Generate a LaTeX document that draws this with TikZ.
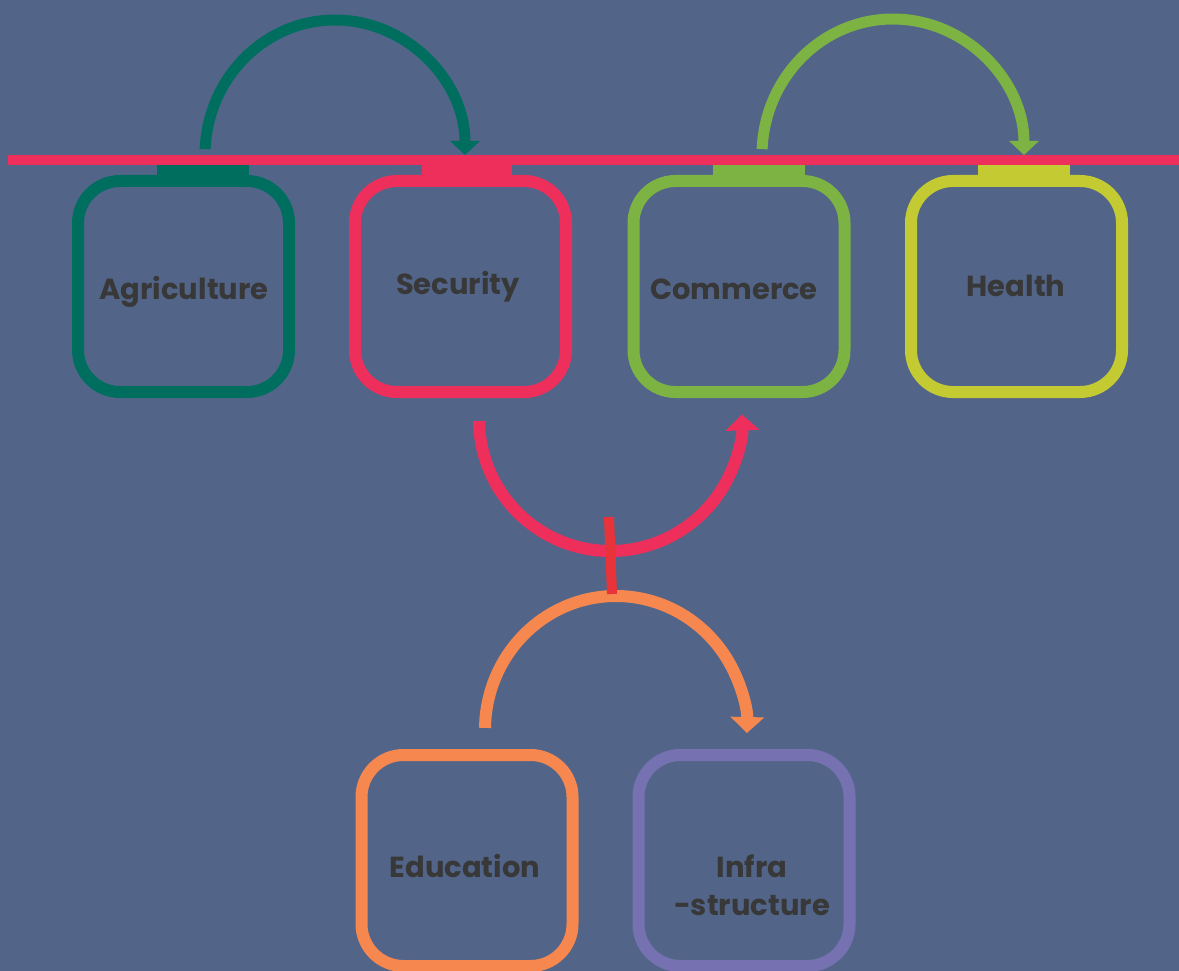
\documentclass[tikz,border=0pt]{standalone}
\usepackage{fontspec}
\setmainfont{Poppins}
\usetikzlibrary{arrows.meta,calc}
\definecolor{bg}{HTML}{526589}
\definecolor{dgreen}{HTML}{006E5F}
\definecolor{pinkred}{HTML}{EE2E5B}
\definecolor{lgreen}{HTML}{7CB342}
\definecolor{ygreen}{HTML}{C3CA32}
\definecolor{orng}{HTML}{F5874F}
\definecolor{purp}{HTML}{7672B2}
\definecolor{txt}{HTML}{383838}
\definecolor{barred}{HTML}{E8333A}
\begin{document}
\begin{tikzpicture}[x=1pt,y=-1pt,
  box/.style={draw, line width=12pt, rounded corners=42pt, minimum width=211pt, minimum height=211pt, inner sep=0pt},
  lbl/.style={anchor=base, text=txt, font=\bfseries\fontsize{29}{38}\selectfont, inner sep=0pt},
  conn/.style={line width=11pt},
  tipS/.style={-{Triangle[width=29pt,length=14pt]}},
  tipL/.style={-{Triangle[width=33pt,length=16pt]}}]
\fill[bg] (0,0) rectangle (1179,971);
\useasboundingbox (0,0) rectangle (1179,971);
% boxes
\node[box, draw=dgreen] (agri) at (183.5,286.5) {};
\node[box, draw=pinkred] (sec) at (460.5,286.5) {};
\node[box, draw=lgreen] (com) at (739,286.5) {};
\node[box, draw=ygreen] (hea) at (1016.5,286.5) {};
\node[box, draw=orng] (edu) at (467,860.5) {};
\node[box, draw=purp] (inf) at (744,860.5) {};
% labels
\node[lbl] (tagri) at (184,299) {Agriculture};
\node[lbl] (tsec) at (458,294) {Security};
\node[lbl] (tcom) at (734,299) {Commerce};
\node[lbl] (thea) at (1016,296) {Health};
\node[lbl] (tedu) at (465,877) {Education};
\node[lbl] (tinf1) at (752,877) {Infra};
\node[lbl] (tinf2) at (752,915) {-structure};
% tabs
\fill[dgreen] (157,165) rectangle (249,178);
\fill[pinkred] (422,165) rectangle (512,178);
\fill[lgreen] (713,165) rectangle (805,178);
\fill[ygreen] (978,165) rectangle (1070,178);
% rail
\coordinate (rl) at (8,160);
\coordinate (rr) at (1179,160);
\draw[pinkred, line width=10pt] (rl) -- (rr);
% connector start points
\coordinate (a1) at ($(335,155)+(177.5:130pt and 135pt)$);
\coordinate (c1) at ($(893,155)+(177.5:131pt and 136pt)$);
\coordinate (s1) at ($(610.5,419)+(180.9:131.5pt and 132pt)$);
\coordinate (e1) at ($(616,730)+(179.1:131pt and 134pt)$);
\draw[conn, dgreen, tipS] (a1) arc[start angle=177.5, end angle=0, x radius=130pt, y radius=135pt];
\draw[conn, lgreen, tipS] (c1) arc[start angle=177.5, end angle=0, x radius=131pt, y radius=136pt];
\draw[line width=12pt, pinkred, tipL] (s1) arc[start angle=180.9, end angle=362, x radius=131.5pt, y radius=132pt];
\draw[line width=12pt, orng, tipL] (e1) arc[start angle=179.1, end angle=-1.3, x radius=131pt, y radius=134pt];
\coordinate (b1) at (609,517);
\coordinate (b2) at (612,594);
\draw[barred, line width=10pt] (b1) -- (b2);
\end{tikzpicture}
\end{document}
